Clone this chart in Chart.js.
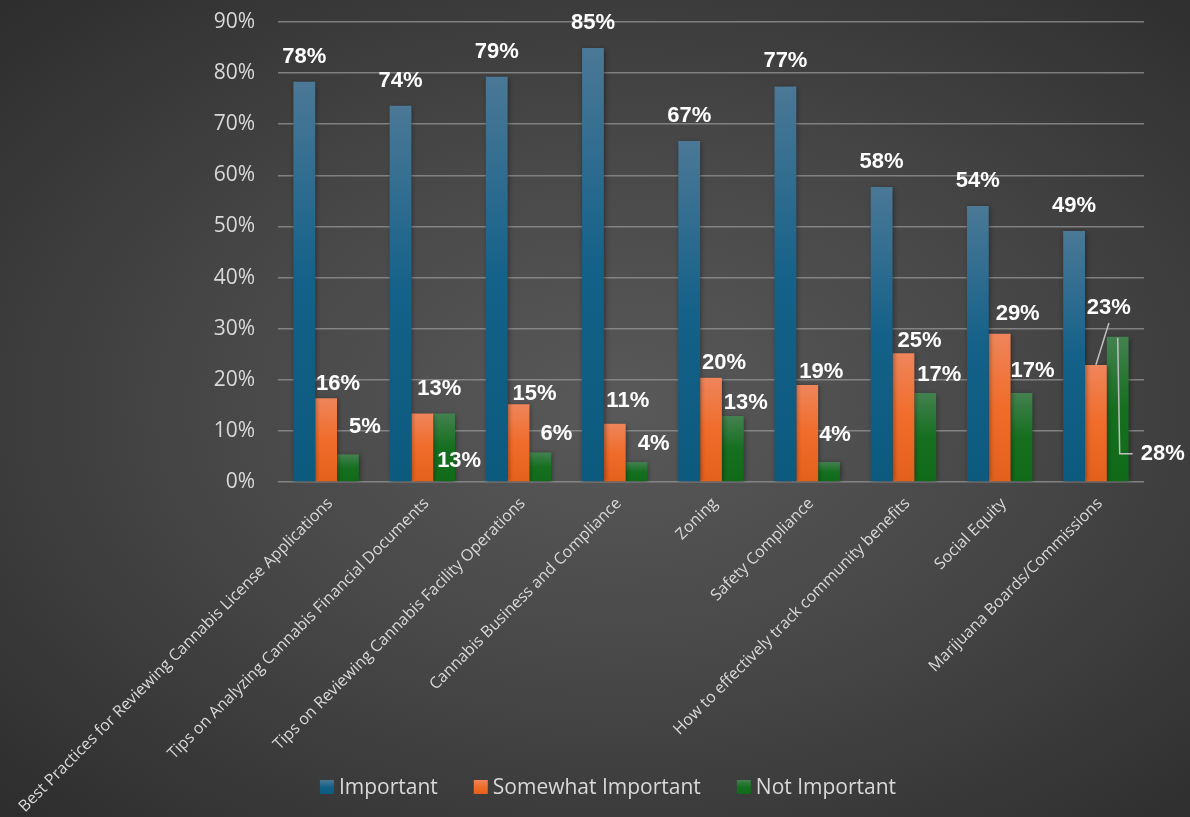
<!DOCTYPE html>
<html>
<head>
<meta charset="utf-8">
<script src="https://cdn.jsdelivr.net/npm/chart.js@4.4.1/dist/chart.umd.min.js"></script>
<style>
  html, body { margin: 0; padding: 0; }
  body {
    width: 1190px; height: 817px; overflow: hidden;
    background: radial-gradient(ellipse farthest-corner at 52% 50%, #595959 0%, #484848 45%, #2d2d2d 100%);
  }
</style>
</head>
<body>
<canvas id="myChart"></canvas>
<script>
// data
const categories = [
  'Best Practices for Reviewing Cannabis License Applications',
  'Tips on Analyzing Cannabis Financial Documents',
  'Tips on Reviewing Cannabis Facility Operations',
  'Cannabis Business and Compliance',
  'Zoning',
  'Safety Compliance',
  'How to effectively track community benefits',
  'Social Equity',
  'Marijuana Boards/Commissions'
];
const important    = [78.3, 73.6, 79.3, 84.9, 66.7, 77.4, 57.7, 54.0, 49.1];
const somewhat     = [16.4, 13.4, 15.2, 11.4, 20.4, 19.0, 25.2, 29.0, 22.9];
const notImportant = [5.4, 13.4, 5.8, 3.9, 12.9, 3.9, 17.4, 17.4, 28.4];

// label nudges [dx from bar centre, distance above bar top]
const offImportant = [[0,25],[0,25],[0,25],[0,25],[0,25],[0,25],[0,25],[0,25],[0,25]];
const offSomewhat  = [[12,14],[17,25],[16,10],[13,23],[13,15],[14,13],[16,12],[18,20],[13,57]];
const offNot       = [[17,27],[15,-47],[16,18],[17,18],[13,13],[6,27],[14,18],[11,22],[45,-117]];
const labelOffsets = [offImportant, offSomewhat, offNot];
const leaders = { '1-8': 'up', '2-8': 'side' };

// bar gradients
const stops = [
  ['#4b7896', '#146189', '#0c5a7e'],
  ['#ef855b', '#f06c2a', '#e3601c'],
  ['#448150', '#156f1f', '#106b19']
];
const flat = ['#146189', '#f06c2a', '#156f1f'];

const textFont = '"Open Sans", Roboto, sans-serif';

function vGrad(c, di, top, base) {
  const g = c.createLinearGradient(0, top, 0, base);
  g.addColorStop(0, stops[di][0]);
  g.addColorStop(0.5, stops[di][1]);
  g.addColorStop(1, stops[di][2]);
  return g;
}

function barFill(di) {
  return function (ctx) {
    const chart = ctx.chart;
    if (ctx.type !== 'data' || !chart.chartArea) return flat[di];
    const y = chart.scales.y;
    const top = y.getPixelForValue(ctx.raw);
    const base = y.getPixelForValue(0);
    if (!isFinite(top) || !isFinite(base) || base - top < 1) return flat[di];
    return vGrad(chart.ctx, di, top, base);
  };
}

const barShadow = {
  id: 'barShadow',
  beforeDatasetsDraw(chart) {
    const c = chart.ctx;
    c.save();
    c.shadowColor = 'rgba(0,0,0,0.45)';
    c.shadowBlur = 5;
    c.shadowOffsetX = 1;
    c.shadowOffsetY = 1;
  },
  afterDatasetsDraw(chart) {
    chart.ctx.restore();
  }
};

const valueLabels = {
  id: 'valueLabels',
  afterDatasetsDraw(chart) {
    const c = chart.ctx;
    c.save();
    c.font = 'bold 22px "Liberation Sans", Arial, sans-serif';
    c.fillStyle = '#ffffff';
    c.textAlign = 'center';
    c.textBaseline = 'middle';
    c.strokeStyle = '#bfbfbf';
    c.lineWidth = 1.5;
    chart.data.datasets.forEach((ds, di) => {
      const meta = chart.getDatasetMeta(di);
      meta.data.forEach((bar, i) => {
        const off = labelOffsets[di][i];
        const lx = bar.x + off[0];
        const ly = bar.y - off[1];
        c.fillText(Math.round(ds.data[i]) + '%', lx, ly);
        const kind = leaders[di + '-' + i];
        if (kind === 'up') {
          c.beginPath();
          c.moveTo(lx, ly + 15);
          c.lineTo(bar.x, bar.y);
          c.stroke();
        } else if (kind === 'side') {
          c.beginPath();
          c.moveTo(bar.x, bar.y + 1);
          c.lineTo(bar.x + 2, ly);
          c.lineTo(lx - 30, ly);
          c.stroke();
        }
      });
    });
    c.restore();
  }
};

// rotated category labels (drawn here so the long first one is not clipped)
const categoryLabels = {
  id: 'categoryLabels',
  afterDraw(chart) {
    const c = chart.ctx;
    const xs = chart.scales.x;
    const bottom = chart.chartArea.bottom;
    c.save();
    c.font = '16px ' + textFont;
    c.fillStyle = '#d9d9d9';
    c.textAlign = 'right';
    c.textBaseline = 'middle';
    categories.forEach((lab, i) => {
      const x = xs.getPixelForValue(i);
      c.save();
      c.translate(x + 4, bottom + 19);
      c.rotate(-Math.PI / 4);
      c.fillText(lab, 0, 0);
      c.restore();
    });
    c.restore();
  }
};

// legend along the bottom
const bottomLegend = {
  id: 'bottomLegend',
  afterDraw(chart) {
    const c = chart.ctx;
    const box = 14, gap = 5, spacing = 36;
    const cx = 608, cy = 787;
    c.save();
    c.font = '21px ' + textFont;
    c.textBaseline = 'middle';
    c.textAlign = 'left';
    const items = chart.data.datasets.map(ds => ds.label);
    const widths = items.map(t => c.measureText(t).width);
    let total = 0;
    widths.forEach((w, i) => { total += box + gap + w + (i < widths.length - 1 ? spacing : 0); });
    let x = cx - total / 2;
    items.forEach((t, i) => {
      c.fillStyle = vGrad(c, i, cy - box / 2, cy + box / 2);
      c.fillRect(x, cy - box / 2, box, box);
      c.fillStyle = '#d9d9d9';
      c.fillText(t, x + box + gap, cy + 1);
      x += box + gap + widths[i] + spacing;
    });
    c.restore();
  }
};

const data = {
  labels: categories,
  datasets: [{
    label: 'Important',
    data: important,
    backgroundColor: barFill(0)
  }, {
    label: 'Somewhat Important',
    data: somewhat,
    backgroundColor: barFill(1)
  }, {
    label: 'Not Important',
    data: notImportant,
    backgroundColor: barFill(2)
  }]
};

const config = {
  type: 'bar',
  data: data,
  options: {
    responsive: false,
    animation: false,
    devicePixelRatio: 1,
    categoryPercentage: 0.68,
    barPercentage: 1,
    layout: { padding: { top: 22, right: 46, bottom: 335, left: 0 } },
    plugins: {
      legend: { display: false },
      tooltip: { enabled: false }
    },
    scales: {
      x: {
        grid: { display: false },
        border: { display: false },
        ticks: { display: false },
        afterFit(scale) { scale.height = 0; scale.paddingTop = 0; scale.paddingBottom = 0; }
      },
      y: {
        min: 0,
        max: 90,
        grid: { color: 'rgba(150,150,150,0.75)', lineWidth: 1.5, drawTicks: false },
        border: { display: false },
        ticks: {
          stepSize: 10,
          color: '#d9d9d9',
          font: { family: textFont, size: 21 },
          padding: 23,
          callback: v => v + '%'
        },
        afterFit(scale) { scale.width = 278; scale.paddingTop = 0; scale.paddingBottom = 0; }
      }
    }
  },
  plugins: [barShadow, valueLabels, categoryLabels, bottomLegend]
};

const canvas = document.getElementById('myChart');
canvas.width = 1190;
canvas.height = 817;
const myChart = new Chart(canvas, config);
</script>
</body>
</html>
